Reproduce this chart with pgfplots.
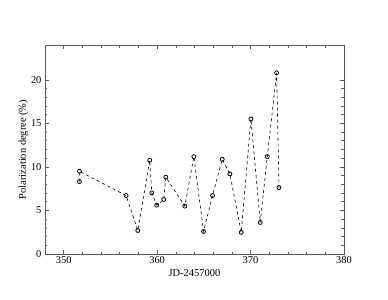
\documentclass[border=0pt]{standalone}
\usepackage{fontspec}
\setmainfont{Liberation Serif}
\usepackage{pgfplots}
\pgfplotsset{compat=1.18}
\begin{document}
\begin{tikzpicture}
\begin{axis}[
  scale only axis,
  width=299bp, height=209bp,
  xmin=348, xmax=380, ymin=0, ymax=24,
  xtick={350,360,370,380}, ytick={0,5,10,15,20},
  minor x tick num=4, minor y tick num=4,
  tick align=inside,
  major tick length=4bp, minor tick length=2.5bp,
  every tick/.style={gray!70!black, line width=0.6pt},
  axis line style={gray!70!black, line width=1pt},
  tick label style={font=\fontsize{10.5}{12}\selectfont},
  label style={font=\fontsize{10.5}{12}\selectfont},
  /pgf/number format/assume math mode=true,
  xlabel={JD-2457000},
  ylabel={Polarization degree (\%)},
  xlabel style={yshift=1bp},
  ylabel style={yshift=-4bp},
  xticklabel style={yshift=1bp},
]
\addplot[black, dashed, line width=0.6pt, mark=o, mark size=2pt,
  mark options={solid, line width=0.8pt}] coordinates {
(351.68,8.32)
(351.68,9.50)
(356.68,6.71)
(357.93,2.70)
(359.21,10.77)
(359.43,7.02)
(359.96,5.61)
(360.71,6.26)
(360.93,8.82)
(362.97,5.50)
(363.93,11.18)
(364.97,2.59)
(365.93,6.71)
(366.97,10.88)
(367.79,9.20)
(369.00,2.48)
(370.04,15.50)
(371.04,3.62)
(371.79,11.18)
(372.79,20.80)
(373.04,7.63)
};
\end{axis}
\path[use as bounding box] ([xshift=-45bp,yshift=-46bp]current axis.south west) rectangle ([xshift=44bp,yshift=45bp]current axis.north east);
\end{tikzpicture}
\end{document}
